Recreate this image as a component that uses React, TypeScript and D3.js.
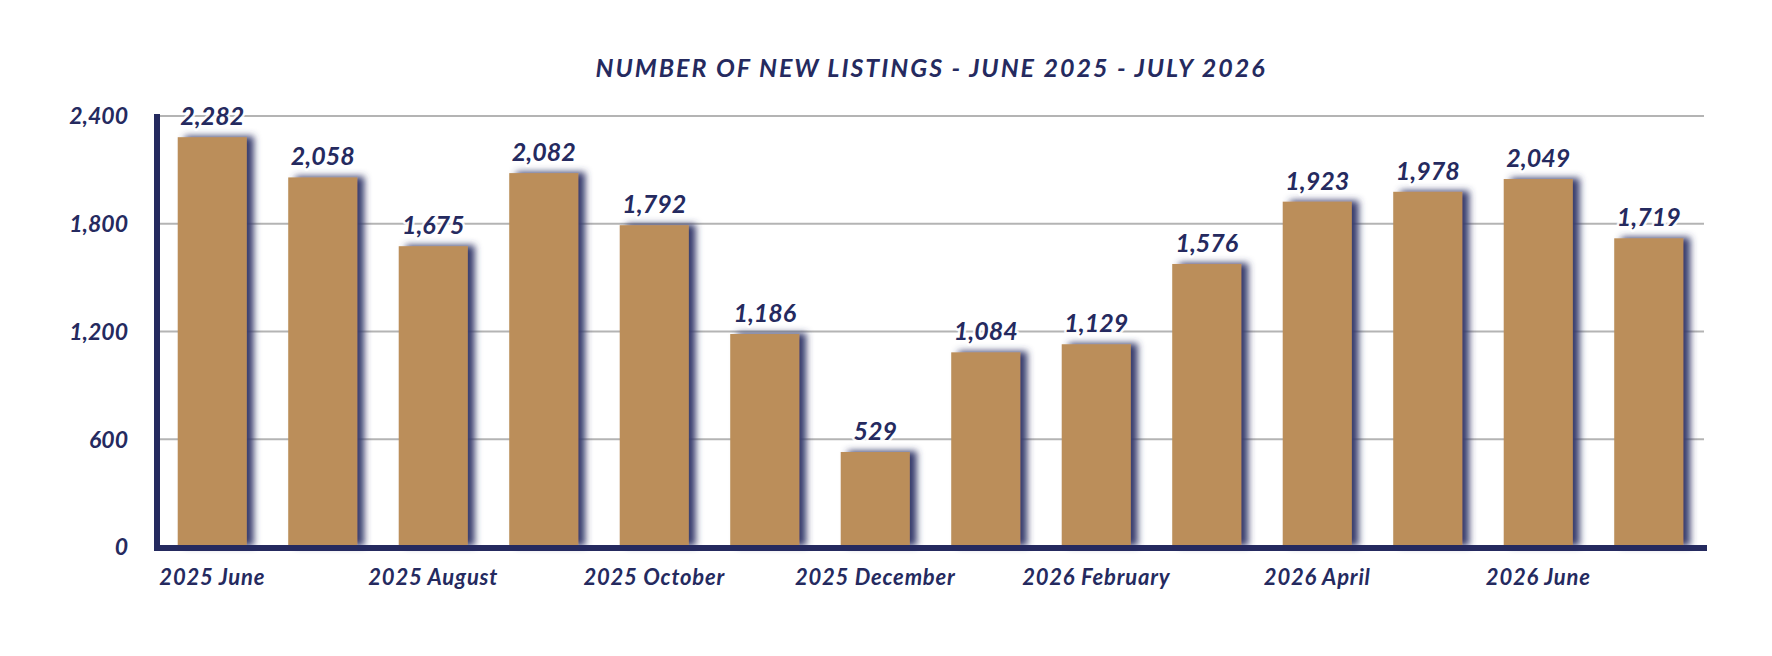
import React from "react";
import * as d3 from "d3";

const categories: string[] = [
  "2025 June", "2025 July", "2025 August", "2025 September", "2025 October",
  "2025 November", "2025 December", "2026 January", "2026 February", "2026 March",
  "2026 April", "2026 May", "2026 June", "2026 July",
];
const newListings: number[] = [2282, 2058, 1675, 2082, 1792, 1186, 529, 1084, 1129, 1576, 1923, 1978, 2049, 1719];
const yTicks: number[] = [0, 600, 1200, 1800, 2400];
const xLabelEvery = 2;
const title = "NUMBER OF NEW LISTINGS - JUNE 2025 - JULY 2026";

const W = 1772;
const H = 656;
const NAVY = "#252a5f";
const BAR = "#bb8e5a";
const GRID = "#b4b4b4";
const FONT = "Lato, 'Noto Sans', sans-serif";

export default function App() {
  const x = d3.scaleBand<string>().domain(categories).range([157, 1704]).paddingInner(0.375).paddingOuter(0.1875);
  const y = d3.scaleLinear().domain([0, 2400]).range([547, 116]);
  const fmt = d3.format(",");

  return (
    <svg width={W} height={H} style={{ position: "absolute", left: 0, top: 0, background: "#fff" }}>
      <defs>
        <filter id="barShadow" x="-30%" y="-10%" width="160%" height="120%">
          <feGaussianBlur in="SourceAlpha" stdDeviation="3.6" result="blur" />
          <feOffset in="blur" dx="7" dy="-1" result="off" />
          <feFlood floodColor="#363b6c" floodOpacity="1" />
          <feComposite in2="off" operator="in" result="shadow" />
          <feMerge>
            <feMergeNode in="shadow" />
            <feMergeNode in="SourceGraphic" />
          </feMerge>
        </filter>
      </defs>

      <text x={931} y={77} textAnchor="middle" fill={NAVY} fontFamily={FONT} fontStyle="italic" fontWeight={700} fontSize={25} letterSpacing={2}>
        {title}
      </text>

      {yTicks.filter((t) => t > 0).map((t) => (
        <line key={t} x1={157} x2={1704} y1={y(t)} y2={y(t)} stroke={GRID} strokeWidth={2} />
      ))}

      {yTicks.map((t) => (
        <text key={t} x={128} y={y(t)} dy="0.36em" textAnchor="end" fill={NAVY} fontFamily={FONT} fontStyle="italic" fontWeight={700} fontSize={23}>
          {fmt(t)}
        </text>
      ))}

      {categories.map((c, i) => (
        <rect key={c} x={x(c)} y={y(newListings[i])} width={x.bandwidth()} height={y(0) - y(newListings[i])} fill={BAR} filter="url(#barShadow)" />
      ))}

      {categories.map((c, i) => (
        <text key={c} x={(x(c) as number) + x.bandwidth() / 2} y={y(newListings[i]) - 12} textAnchor="middle" fill={NAVY} stroke="#ffffff" strokeWidth={5} strokeLinejoin="round" strokeOpacity={0.85} paintOrder="stroke" fontFamily={FONT} fontStyle="italic" fontWeight={700} fontSize={25}>
          {fmt(newListings[i])}
        </text>
      ))}

      <line x1={157} x2={157} y1={114} y2={551} stroke={NAVY} strokeWidth={6} />
      <line x1={154} x2={1707} y1={548} y2={548} stroke={NAVY} strokeWidth={6} />

      {categories.map((c, i) =>
        i % xLabelEvery === 0 ? (
          <text key={c} x={(x(c) as number) + x.bandwidth() / 2} y={585} textAnchor="middle" fill={NAVY} fontFamily={FONT} fontStyle="italic" fontWeight={700} fontSize={22} letterSpacing={0.8}>
            {c}
          </text>
        ) : null
      )}
    </svg>
  );
}
